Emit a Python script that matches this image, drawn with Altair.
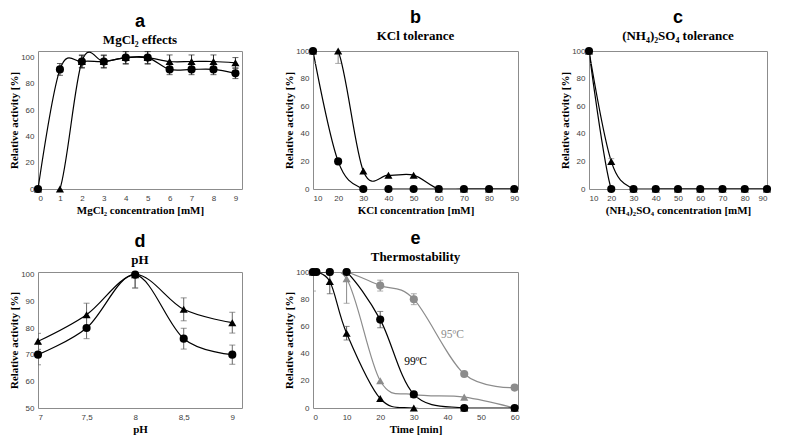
import altair as alt
import pandas as pd

# ---------------- data ----------------
# a: MgCl2 effects
mg_x = [0, 1, 2, 3, 4, 5, 6, 7, 8, 9]
mg_circle = [0, 91, 97, 97, 100, 100, 91, 91, 91, 88]
mg_circle_err = [0, 4.5, 4.5, 4.5, 4.5, 4.5, 4, 4, 4, 4]
mg_tri = [0, 0, 97, 97, 100, 100, 97, 97, 97, 96]
mg_tri_err = [0, 0, 5, 5, 5, 5, 5, 5, 5, 4]

# b: KCl tolerance
kcl_x = [10, 20, 30, 40, 50, 60, 70, 80, 90]
kcl_circle = [100, 20, 0, 0, 0, 0, 0, 0, 0]
kcl_circle_err = [9, 0, 0, 0, 0, 0, 0, 0, 0]
kcl_tri = [100, 100, 13, 10, 10, 0, 0, 0, 0]
kcl_tri_err = [0, 9, 0, 0, 0, 0, 0, 0, 0]

# c: (NH4)2SO4 tolerance
nh_x = [10, 20, 30, 40, 50, 60, 70, 80, 90]
nh_circle = [100, 0, 0, 0, 0, 0, 0, 0, 0]
nh_circle_err = [9, 0, 0, 0, 0, 0, 0, 0, 0]
nh_tri = [100, 20, 0, 0, 0, 0, 0, 0, 0]
nh_tri_err = [0, 2, 0, 0, 0, 0, 0, 0, 0]

# d: pH
ph_x = [7, 7.5, 8, 8.5, 9]
ph_circle = [70, 80, 100, 76, 70]
ph_circle_err = [3.8, 4, 5, 3.9, 3.6]
ph_tri = [75, 85, 100, 87, 82]
ph_tri_err = [3, 4.3, 5, 4.3, 3.9]

# e: Thermostability
t95c_x = [0, 1, 5, 10, 20, 30, 45, 60]
t95c_y = [100, 100, 100, 100, 90, 80, 25, 15]
t95c_err = [0, 0, 0, 0, 4, 4, 0, 0]
t95t_x = [0, 10, 20, 30, 45, 60]
t95t_y = [100, 95, 20, 10, 8, 0]
t95t_err = [14, 18, 0, 0, 0, 0]
t99c_x = [0, 1, 5, 10, 20, 30, 45, 60]
t99c_y = [100, 100, 100, 100, 65, 10, 0, 0]
t99c_err = [0, 0, 0, 0, 6, 0, 0, 0]
t99t_x = [0, 5, 10, 20, 30, 45, 60]
t99t_y = [100, 93, 55, 7, 0, 0, 0]
t99t_err = [0, 9, 5, 0, 0, 0, 0]

e_labels = ["95ºC", "99ºC"]
e_label_x = [41.5, 30.5]
e_label_y = [54, 34]

BLACK = "#000000"
GRAY = "#8c8c8c"
YTITLE = "Relative activity [%]"


def series(name, xs, ys, errs, shape, color, ecolor):
    return pd.DataFrame({
        "s": name, "x": xs, "y": ys, "err": errs,
        "shape": shape, "col": color, "ecol": ecolor,
    })


def panel(frames, xdom, ydom, xvals, yvals, letter, subtitle, xtitle, w, h,
          xlabel_expr=None, text_df=None):
    df = pd.concat(frames, ignore_index=True)
    df["lo"] = df["y"] - df["err"]
    df["hi"] = df["y"] + df["err"]
    edf = df[df["err"] > 0]
    if xlabel_expr:
        xaxis = alt.Axis(values=xvals, title=xtitle, labelExpr=xlabel_expr)
    else:
        xaxis = alt.Axis(values=xvals, title=xtitle, format="d")
    yaxis = alt.Axis(values=yvals, title=YTITLE)
    xs = alt.Scale(domain=xdom, nice=False, zero=False)
    ys = alt.Scale(domain=ydom, nice=False, zero=False)

    def X(f="x"):
        return alt.X(f + ":Q", scale=xs, axis=xaxis)

    def Y(f="y"):
        return alt.Y(f + ":Q", scale=ys, axis=yaxis)

    base = alt.Chart(df)
    lines = base.mark_line(interpolate="cardinal", clip=True, strokeWidth=1.2).encode(
        x=X(), y=Y(), color=alt.Color("col:N", scale=None), detail="s:N")
    ebase = alt.Chart(edf)
    rule = ebase.mark_rule(clip=True, strokeWidth=1).encode(
        x=X(), y=Y("lo"), y2="hi:Q", color=alt.Color("ecol:N", scale=None))
    cap_lo = ebase.mark_tick(clip=True, orient="horizontal", size=6, thickness=1).encode(
        x=X(), y=Y("lo"), color=alt.Color("ecol:N", scale=None))
    cap_hi = ebase.mark_tick(clip=True, orient="horizontal", size=6, thickness=1).encode(
        x=X(), y=Y("hi"), color=alt.Color("ecol:N", scale=None))
    pts = base.mark_point(filled=True, size=66, opacity=1).encode(
        x=X(), y=Y(),
        shape=alt.Shape("shape:N", scale=None),
        color=alt.Color("col:N", scale=None))
    layers = [lines, rule, cap_lo, cap_hi, pts]
    if text_df is not None:
        txt = alt.Chart(text_df).mark_text(font="Liberation Serif", fontSize=11.5).encode(
            x=X(), y=Y(), text="t:N", color=alt.Color("col:N", scale=None))
        layers.append(txt)
    return alt.layer(*layers).properties(
        width=w, height=h,
        title=alt.TitleParams(text=letter, subtitle=subtitle))


pa = panel([
    series("c", mg_x, mg_circle, mg_circle_err, "circle", BLACK, "#222222"),
    series("t", mg_x, mg_tri, mg_tri_err, "triangle-up", BLACK, "#222222"),
], [0, 9.3], [0, 105], mg_x, [0, 20, 40, 60, 80, 100], "a", "MgCl₂ effects",
    "MgCl₂ concentration [mM]", 204, 138)

pb = panel([
    series("c", kcl_x, kcl_circle, kcl_circle_err, "circle", BLACK, "#888888"),
    series("t", kcl_x, kcl_tri, kcl_tri_err, "triangle-up", BLACK, "#888888"),
], [10, 91.5], [0, 100], kcl_x, [0, 20, 40, 60, 80, 100], "b", "KCl tolerance",
    "KCl concentration [mM]", 205, 138)

pc = panel([
    series("t", nh_x, nh_tri, nh_tri_err, "triangle-up", BLACK, "#888888"),
    series("c", nh_x, nh_circle, nh_circle_err, "circle", BLACK, "#888888"),
], [10, 90], [0, 100], nh_x, [0, 20, 40, 60, 80, 100], "c", "(NH₄)₂SO₄ tolerance",
    "(NH₄)₂SO₄  concentration [mM]", 178, 138)

pd_ = panel([
    series("c", ph_x, ph_circle, ph_circle_err, "circle", BLACK, "#666666"),
    series("t", ph_x, ph_tri, ph_tri_err, "triangle-up", BLACK, "#666666"),
], [7, 9.1], [50, 101], ph_x, [50, 60, 70, 80, 90, 100], "d", "pH",
    "pH", 204, 136, xlabel_expr="replace(toString(datum.value), '.', ',')")

lab_df = pd.DataFrame({"x": e_label_x, "y": e_label_y, "t": e_labels,
                       "col": [GRAY, BLACK]})

pe = panel([
    series("g95c", t95c_x, t95c_y, t95c_err, "circle", GRAY, GRAY),
    series("g95t", t95t_x, t95t_y, t95t_err, "triangle-up", GRAY, GRAY),
    series("b99c", t99c_x, t99c_y, t99c_err, "circle", BLACK, "#555555"),
    series("b99t", t99t_x, t99t_y, t99t_err, "triangle-up", BLACK, "#555555"),
], [0, 61], [0, 100], [0, 10, 20, 30, 40, 50, 60], [0, 20, 40, 60, 80, 100],
    "e", "Thermostability", "Time [min]", 205, 136, text_df=lab_df)

chart = alt.concat(
    pa, pb, pc, pd_, pe, columns=3,
    spacing={"row": 83, "column": 71}, bounds="flush",
    padding={"left": 0, "top": 0, "right": 0, "bottom": 0},
).configure_view(
    stroke="#8c8c8c", strokeWidth=1
).configure_axis(
    labelFont="Liberation Sans", labelFontSize=8, labelColor="#404040",
    titleFont="Liberation Serif", titleFontWeight="bold", titleFontSize=11,
    titleColor="#000000", domain=False, ticks=False, grid=False,
).configure_axisY(titlePadding=1, labelPadding=4).configure_axisX(
    titlePadding=2, labelPadding=5
).configure_title(
    font="Liberation Sans", fontSize=18, fontWeight="bold", color="#000000",
    subtitleFont="Liberation Serif", subtitleFontSize=13,
    subtitleFontWeight="bold", subtitleColor="#000000",
    subtitlePadding=0, offset=0, anchor="middle",
)

chart.save("out.html", embed_options={"renderer": "svg", "actions": False})
